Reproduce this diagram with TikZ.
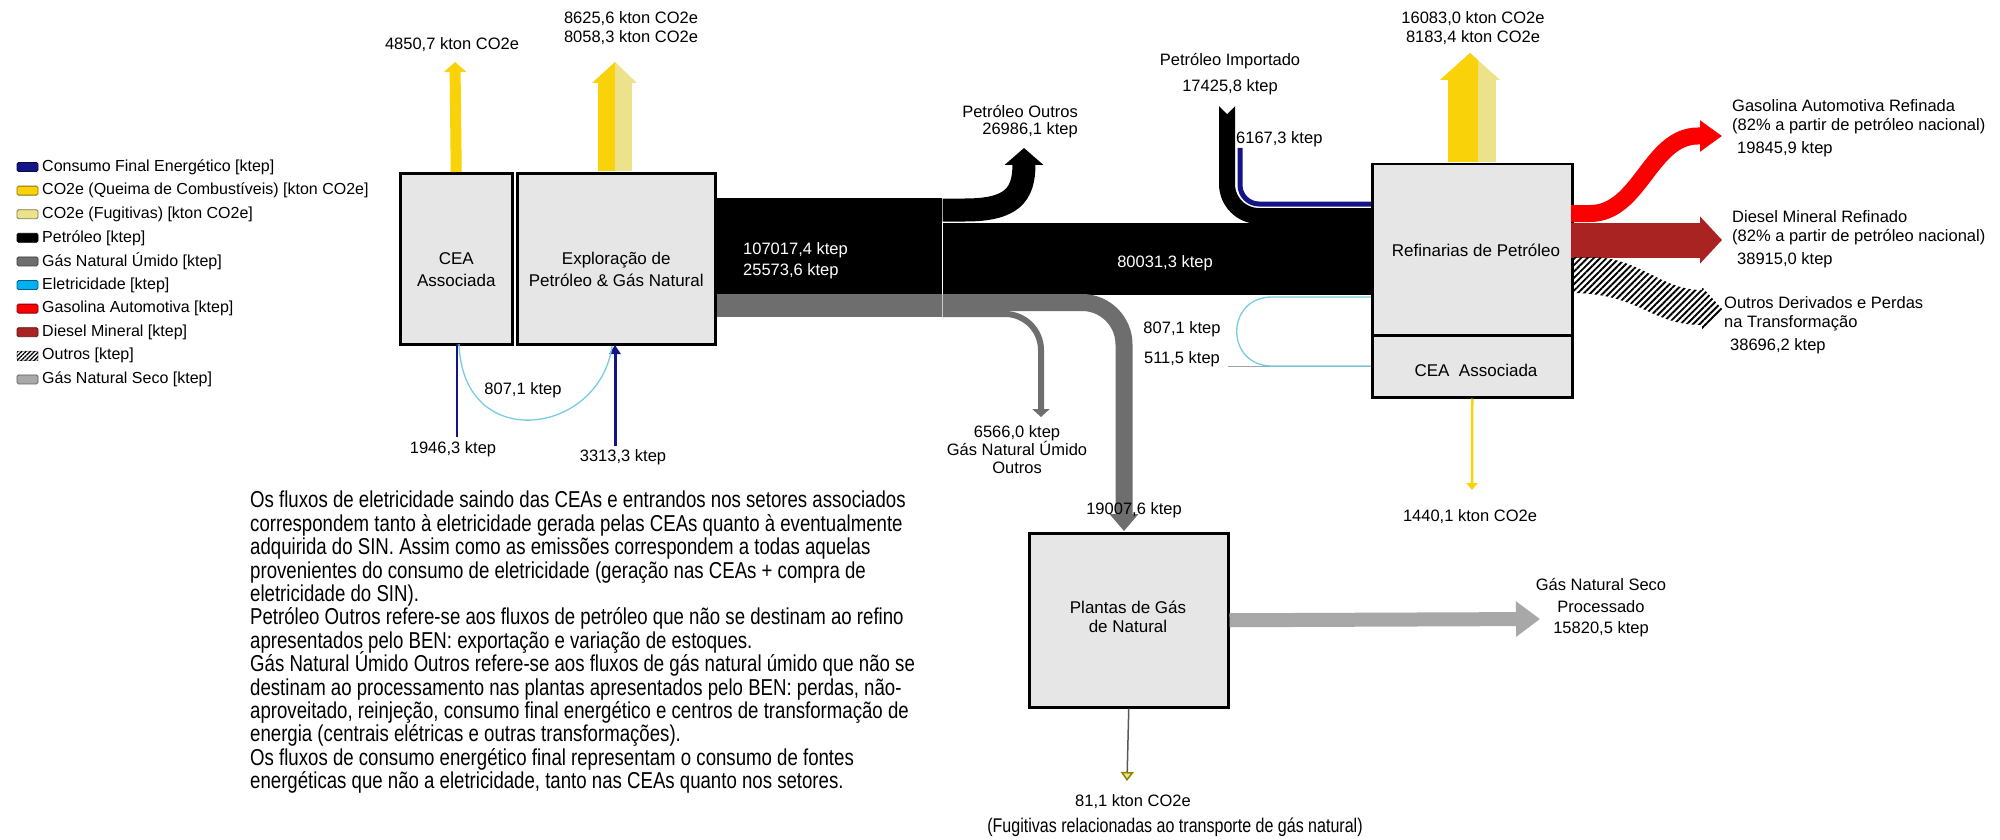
\documentclass[tikz,border=0pt]{standalone}
\usepackage{fontspec}
\setmainfont{Liberation Sans}
\newfontfamily\estreita[FakeStretch=0.81]{Liberation Sans}
\usetikzlibrary{arrows.meta}
\usetikzlibrary{patterns.meta}

\definecolor{consumo}{RGB}{20,20,135}
\definecolor{queima}{RGB}{250,210,10}
\definecolor{fugitiva}{RGB}{236,226,140}
\definecolor{gasumido}{RGB}{110,110,110}
\definecolor{gasseco}{RGB}{168,168,168}
\definecolor{eletric}{RGB}{0,176,240}
\definecolor{eletlinha}{RGB}{120,205,225}
\definecolor{sinlinha}{RGB}{150,165,175}
\definecolor{gasolina}{RGB}{250,0,0}
\definecolor{diesel}{RGB}{170,35,35}
\definecolor{caixacinza}{RGB}{230,230,230}

\begin{document}
\lineskiplimit=-20pt
\begin{tikzpicture}[x=1pt,y=-1pt]
\tikzstyle{caixa}=[draw,line width=2.5pt,fill=caixacinza,inner sep=0pt,anchor=north west]
\tikzstyle{caixatexto}=[inner sep=0pt,align=center,font=\fontsize{17}{22}\selectfont]
\tikzstyle{rotulo}=[inner sep=0pt,align=center,font=\fontsize{16.5}{19}\selectfont]
\tikzstyle{hachura}=[pattern={Lines[angle=45,distance=4.5pt,line width=1.9pt]},pattern color=black]
\fill[white] (0,0) rectangle (2000,840);
\useasboundingbox (0,0) rectangle (2000,840);

% legenda
\foreach \cor/\texto [count=\i from 0] in {consumo/{Consumo Final Energético [ktep]},
    queima/{CO2e (Queima de Combustíveis) [kton CO2e]}, fugitiva/{CO2e (Fugitivas) [kton CO2e]},
    black/{Petróleo [ktep]}, gasumido/{Gás Natural Úmido [ktep]}, eletric/{Eletricidade [ktep]},
    gasolina/{Gasolina Automotiva [ktep]}, diesel/{Diesel Mineral [ktep]},
    white/{Outros [ktep]}, gasseco/{Gás Natural Seco [ktep]}}
  {
  \draw[fill=\cor,draw=\cor!55!black,line width=0.8pt,rounded corners=1.5pt]
    (17,{167+23.6*\i-4.5}) rectangle (38,{167+23.6*\i+4.5});
  \node[anchor=west,inner sep=0pt,font=\fontsize{16}{19}\selectfont] (leg\i) at (42,{167+23.6*\i}) {\texto};
  }
\fill[pattern={Lines[angle=45,distance=3pt,line width=1.2pt]}] (17,351.3) rectangle (38,360.3);

% fluxos de saida da exploracao
\fill[black] (714,198) rectangle (941.5,294);
\fill[gasumido] (714,294) rectangle (941.5,317);
\fill[black] (942.5,223) rectangle (1371,295);
\coordinate (outrosPonta) at (1024,148);
\draw[black,line width=23pt,-{Triangle[length=17pt,width=38pt]}]
  (942.5,210) -- (965,210) .. controls (1012,210) and (1024,195) .. (outrosPonta);
\draw[gasumido,line width=17pt,rounded corners=42pt,-{Triangle[length=17pt,width=28pt]}]
  (942.5,302.5) -| (1124,531);
\draw[gasumido,line width=6pt,rounded corners=36pt,-{Triangle[length=8pt,width=17pt]}]
  (942.5,314) -| (1041,417);

% petroleo importado
\draw[black,line width=16pt,rounded corners=32pt] (1227,106) |- (1371,216);
\fill[white] (1218,105) -- (1227,114) -- (1236,105) -- cycle;
\draw[consumo,line width=5pt,rounded corners=19pt] (1240,148) |- (1371,204);

% eletricidade da refinaria
\draw[sinlinha,line width=1pt] (1228,366.5) -- (1371,366.5);
\draw[eletlinha,line width=1.3pt] (1371,297) -- (1272,297)
  .. controls (1225,297) and (1225,366) .. (1272,366) -- (1371,366);

% caixas
\node[caixa,minimum width=112pt,minimum height=171pt] (cea) at (399,172) {};
\node[caixa,minimum width=198pt,minimum height=171pt] (expl) at (516,172) {};
\node[caixa,minimum width=200pt,minimum height=171pt] (refino) at (1371,163) {};
\node[caixa,minimum width=200pt,minimum height=62pt] (ceaRef) at (1371,334) {};
\node[caixa,minimum width=199pt,minimum height=174pt] (plantas) at (1028,532) {};
\node[caixatexto,yshift=-10.5pt] (tCea) at (cea.center) {CEA\\Associada};
\node[caixatexto,yshift=-10.5pt] (tExpl) at (expl.center) {Exploração de\\Petróleo \& Gás Natural};
\node[caixatexto] (tRefino) at (1476,250) {Refinarias de Petróleo};
\node[caixatexto] (tCeaRef) at (1476,370) {CEA\ \ Associada};
\node[caixatexto,font=\fontsize{17}{19}\selectfont] (tPlantas) at (1128,616.5) {Plantas de Gás\\de Natural};

% emissoes
\coordinate (co2Cea) at (455,62);
\draw[queima,line width=11pt,-{Triangle[length=10pt,width=22pt]}] (cea.north) -- (co2Cea);
\fill[queima] (598,170.75) rectangle (615,83);
\fill[fugitiva] (615,170.75) rectangle (632,83);
\fill[queima] (592,83) -- (615,62) -- (615,83) -- cycle;
\fill[fugitiva] (615,83) -- (615,62) -- (637,83) -- cycle;
\fill[queima] (1448,161.75) rectangle (1478,80);
\fill[fugitiva] (1478,161.75) rectangle (1496,80);
\fill[fugitiva] (1440,80) -- (1470,53) -- (1500,80) -- cycle;
\fill[queima] (1440,80) -- (1470,53) -- (1478,60.2) -- (1478,80) -- cycle;
\coordinate (co2CeaRef) at (1472,490);
\draw[queima,line width=2.5pt,-{Triangle[length=7pt,width=11pt]}] (ceaRef.south) -- (co2CeaRef);
\coordinate (co2Plantas) at (1127,781);
\draw[gasumido!80!black,line width=1.5pt,-{Triangle[length=9pt,width=13pt,fill=fugitiva,color=olive]}]
  (plantas.south) -- (co2Plantas);

% consumo e eletricidade das CEAs
\coordinate (c1946) at (457,437);
\coordinate (c3313) at (615,446);
\draw[consumo,line width=2pt] (c1946) -- (457,344);
\draw[consumo,line width=3pt,-{Triangle[length=9pt,width=11pt]}] (c3313) -- (615,345);
\draw[eletlinha,line width=1.3pt] (459,344) .. controls (463,455) and (600,435) .. (612,346);

% produtos
\coordinate (seco) at (1540,619);
\draw[gasseco,line width=14pt,-{Triangle[length=24pt,width=34pt]}] (plantas.east) -- (seco);
\draw[gasolina,line width=17pt,-{Triangle[length=22pt,width=30pt]}]
  (1571,213.5) -- (1590,213.5) .. controls (1640,213.5) and (1650,136) .. (1698,136) -- (1722,136);
\draw[diesel,line width=35pt,-{Triangle[length=22pt,width=46pt]}] (1571,240) -- (1722,240);
\fill[hachura] (1571,257) -- (1590,257) .. controls (1640,257) and (1660,290) .. (1702,290)
  -- (1702,287) -- (1723,310) -- (1702,331) -- (1702,325)
  .. controls (1650,325) and (1640,293) .. (1571,293) -- cycle;

% rotulos
\node[rotulo] (lCea) at (452,45) {4850,7 kton CO2e};
\node[rotulo] (lExpl) at (631,28.5) {8625,6 kton CO2e\\8058,3 kton CO2e};
\node[rotulo,align=right,anchor=east,font=\fontsize{16.5}{17}\selectfont] (lOutros) at (1078,121.5) {Petróleo Outros\\26986,1 ktep};
\node[rotulo,align=left,anchor=west,text=white,font=\fontsize{16.5}{21}\selectfont] (lSaida) at (743,260.5) {107017,4 ktep\\25573,6 ktep};
\node[rotulo,text=white] (lRefino) at (1165,263) {80031,3 ktep};
\node[rotulo,font=\fontsize{16.5}{26}\selectfont] (lImp) at (1230,74) {Petróleo Importado\\17425,8 ktep};
\node[rotulo,anchor=west] (l6167) at (1236,139) {6167,3 ktep};
\node[rotulo] (lCo2Ref) at (1473,28.5) {16083,0 kton CO2e\\8183,4 kton CO2e};
\node[rotulo] (l807b) at (1182,329) {807,1 ktep};
\node[rotulo] (l511) at (1182,359) {511,5 ktep};
\node[rotulo,font=\fontsize{16.5}{18}\selectfont] (lUmido) at (1017,450) {6566,0 ktep\\Gás Natural Úmido\\Outros};
\node[rotulo] (l19007) at (1134,510) {19007,6 ktep};
\node[rotulo,font=\fontsize{16.5}{21.5}\selectfont] (lSeco) at (1601,608) {Gás Natural Seco\\Processado\\15820,5 ktep};
\node[rotulo] (l1440) at (1470,517) {1440,1 kton CO2e};
\node[rotulo] (l81) at (1133,802) {81,1 kton CO2e};
\node[rotulo,font=\estreita\fontsize{19.8}{21}\selectfont] (lFug) at (1175,827) {(Fugitivas relacionadas ao transporte de gás natural)};
\node[rotulo] (l1946) at (453,449) {1946,3 ktep};
\node[rotulo] (l3313) at (623,457) {3313,3 ktep};
\node[rotulo] (l807a) at (523,390) {807,1 ktep};
\node[rotulo,align=left,anchor=north west] (lGasolina) at (1732,99) {Gasolina Automotiva Refinada\\(82\% a partir de petróleo nacional)\\[4pt]\hspace*{5pt}19845,9 ktep};
\node[rotulo,align=left,anchor=north west] (lDiesel) at (1732,210) {Diesel Mineral Refinado\\(82\% a partir de petróleo nacional)\\[4pt]\hspace*{5pt}38915,0 ktep};
\node[rotulo,align=left,anchor=north west] (lDerivados) at (1724,296) {Outros Derivados e Perdas\\na Transformação\\[4pt]\hspace*{6pt}38696,2 ktep};

% nota
\node[anchor=north west,align=left,inner sep=0pt,font=\estreita\fontsize{23}{23.4}\selectfont] (nota) at (250,491) {Os fluxos de eletricidade saindo das CEAs e entrandos nos setores associados\\
correspondem tanto à eletricidade gerada pelas CEAs quanto à eventualmente\\
adquirida do SIN. Assim como as emissões correspondem a todas aquelas\\
provenientes do consumo de eletricidade (geração nas CEAs + compra de\\
eletricidade do SIN).\\
Petróleo Outros refere-se aos fluxos de petróleo que não se destinam ao refino\\
apresentados pelo BEN: exportação e variação de estoques.\\
Gás Natural Úmido Outros refere-se aos fluxos de gás natural úmido que não se\\
destinam ao processamento nas plantas apresentados pelo BEN: perdas, não-\\
aproveitado, reinjeção, consumo final energético e centros de transformação de\\
energia (centrais elétricas e outras transformações).\\
Os fluxos de consumo energético final representam o consumo de fontes\\
energéticas que não a eletricidade, tanto nas CEAs quanto nos setores.};
\end{tikzpicture}
\end{document}
